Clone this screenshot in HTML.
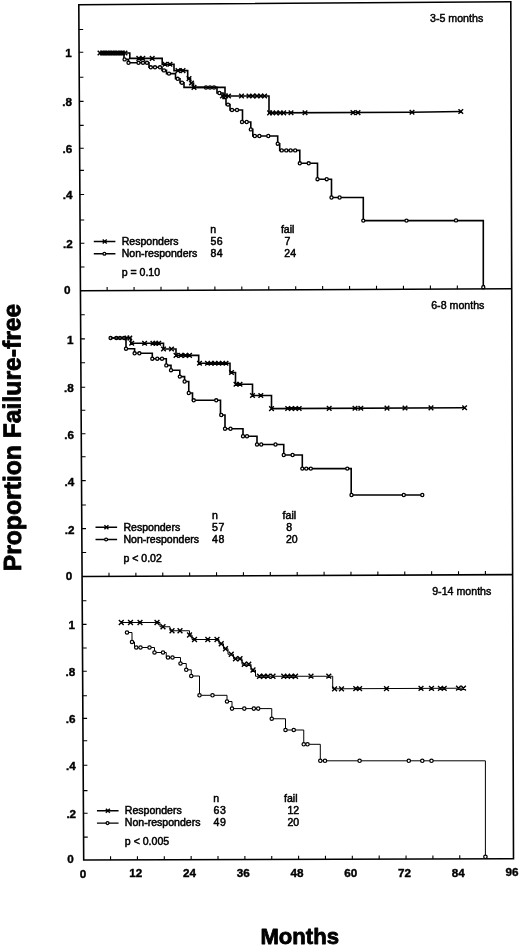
<!DOCTYPE html>
<html><head><meta charset="utf-8"><title>Proportion Failure-free</title>
<style>
html,body{margin:0;padding:0;background:#fff}
svg{display:block}
text{font-family:"Liberation Sans",sans-serif;fill:#000}
.b{font-weight:bold;font-size:11.7px;stroke:#000;stroke-width:.4px}
.l{font-size:10.55px;stroke:#000;stroke-width:.5px}
.t{font-size:10.65px;stroke:#000;stroke-width:.45px}
.ax{font-weight:bold;font-size:22px;stroke:#000;stroke-width:.85px;stroke-linejoin:round}
</style></head><body>
<svg width="520" height="946" viewBox="0 0 520 946">
<rect width="520" height="946" fill="#fff"/>
<path d="M78.8 4.8 L510.8 1.7 L513.5 858.8 L83.7 860 Z" fill="none" stroke="#000" stroke-width="1.6" stroke-linejoin="miter"/>
<path d="M80.2 290.8 L511.2 288.8" stroke="#000" stroke-width="1.6" fill="none"/>
<path d="M82.1 576.5 L512.3 574.6" stroke="#000" stroke-width="1.6" fill="none"/>
<path d="M78.94 29.5 h4.2 M79.07 52.3 h4.2 M79.22 77.3 h4.2 M79.35 101.4 h4.2 M79.49 125.4 h4.2 M79.62 148.2 h4.2 M79.75 170.4 h4.2 M79.89 194.5 h4.2 M80.03 220 h4.2 M80.17 243.2 h4.2 M80.3 267 h4.2 M107.14 290.68 v-3.6 M134.07 290.55 v-3.6 M161.01 290.43 v-3.6 M187.95 290.3 v-3.6 M214.89 290.18 v-3.6 M241.82 290.05 v-3.6 M268.76 289.93 v-3.6 M295.7 289.8 v-3.6 M322.64 289.68 v-3.6 M349.57 289.55 v-3.6 M376.51 289.43 v-3.6 M403.45 289.3 v-3.6 M430.39 289.18 v-3.6 M457.32 289.05 v-3.6 M484.26 288.93 v-3.6 M80.58 314.7 h4.2 M80.71 338.9 h4.2 M80.85 362.7 h4.2 M80.99 387.2 h4.2 M81.12 410.2 h4.2 M81.26 433.8 h4.2 M81.39 456.7 h4.2 M81.53 480.6 h4.2 M81.67 505 h4.2 M81.8 528.6 h4.2 M81.94 552.5 h4.2 M108.99 576.38 v-3.6 M135.88 576.26 v-3.6 M162.76 576.14 v-3.6 M189.65 576.02 v-3.6 M216.54 575.91 v-3.6 M243.42 575.79 v-3.6 M270.31 575.67 v-3.6 M297.2 575.55 v-3.6 M324.09 575.43 v-3.6 M350.97 575.31 v-3.6 M377.86 575.19 v-3.6 M404.75 575.08 v-3.6 M431.64 574.96 v-3.6 M458.52 574.84 v-3.6 M485.41 574.72 v-3.6 M82.21 600.8 h4.2 M82.35 624.4 h4.2 M82.49 648 h4.2 M82.62 671.2 h4.2 M82.76 695.7 h4.2 M82.89 718.4 h4.2 M83.02 740.7 h4.2 M83.16 765.2 h4.2 M83.3 790.6 h4.2 M83.43 813.2 h4.2 M83.57 837.1 h4.2 M110.56 859.92 v-3.6 M137.43 859.85 v-3.6 M164.29 859.77 v-3.6 M191.15 859.7 v-3.6 M218.01 859.62 v-3.6 M244.88 859.55 v-3.6 M271.74 859.48 v-3.6 M298.6 859.4 v-3.6 M325.46 859.32 v-3.6 M352.32 859.25 v-3.6 M379.19 859.17 v-3.6 M406.05 859.1 v-3.6 M432.91 859.02 v-3.6 M459.77 858.95 v-3.6 M486.64 858.88 v-3.6" stroke="#000" stroke-width="1.1" fill="none"/>
<text x="71.77" y="57.2" class="b" text-anchor="end">1</text>
<text x="72.05" y="106.3" class="b" text-anchor="end">.8</text>
<text x="72.32" y="153.1" class="b" text-anchor="end">.6</text>
<text x="72.59" y="199.4" class="b" text-anchor="end">.4</text>
<text x="72.87" y="248.1" class="b" text-anchor="end">.2</text>
<text x="70.54" y="294" class="b" text-anchor="end">0</text>
<text x="73.41" y="343.8" class="b" text-anchor="end">1</text>
<text x="73.69" y="392.1" class="b" text-anchor="end">.8</text>
<text x="73.96" y="438.7" class="b" text-anchor="end">.6</text>
<text x="74.23" y="485.5" class="b" text-anchor="end">.4</text>
<text x="74.5" y="533.5" class="b" text-anchor="end">.2</text>
<text x="72.18" y="579.7" class="b" text-anchor="end">0</text>
<text x="75.05" y="629.3" class="b" text-anchor="end">1</text>
<text x="75.32" y="676.1" class="b" text-anchor="end">.8</text>
<text x="75.59" y="723.3" class="b" text-anchor="end">.6</text>
<text x="75.86" y="770.1" class="b" text-anchor="end">.4</text>
<text x="76.13" y="818.1" class="b" text-anchor="end">.2</text>
<text x="73.8" y="863.2" class="b" text-anchor="end">0</text>
<text x="83.1" y="877.6" class="b" text-anchor="middle">0</text>
<text x="135.83" y="877.45" class="b" text-anchor="middle">12</text>
<text x="189.55" y="877.3" class="b" text-anchor="middle">24</text>
<text x="243.28" y="877.15" class="b" text-anchor="middle">36</text>
<text x="297" y="877" class="b" text-anchor="middle">48</text>
<text x="350.72" y="876.85" class="b" text-anchor="middle">60</text>
<text x="404.45" y="876.7" class="b" text-anchor="middle">72</text>
<text x="458.17" y="876.55" class="b" text-anchor="middle">84</text>
<text x="511.9" y="876.4" class="b" text-anchor="middle">96</text>
<path d="M99 53 H124 V59.4 H128.5 V62.8 H149 V67.3 H162 V70.4 H166.5 V73.6 H175.5 V78.8 H180 V82.7 H184 V87.4 H217 V93 H223 V98.5 H226 V104.6 H230 V110 H242.5 V122 H250.8 V129.4 H252.8 V136 H277.7 V143.7 H279.7 V150.4 H299.8 V163.3 H317.5 V179.2 H331.5 V197.5 H363.3 V220.6 H483.3 V287.4" stroke="#000" stroke-width="1.6" fill="none" stroke-linejoin="miter"/>
<g fill="#fff" stroke="#000" stroke-width="1.3"><circle cx="124.6" cy="59.4" r="1.55"/><circle cx="128.5" cy="62.8" r="1.55"/><circle cx="138.5" cy="62.8" r="1.55"/><circle cx="143" cy="62.8" r="1.55"/><circle cx="147" cy="62.8" r="1.55"/><circle cx="150.8" cy="67.3" r="1.55"/><circle cx="155" cy="67.3" r="1.55"/><circle cx="160" cy="67.3" r="1.55"/><circle cx="164" cy="70.4" r="1.55"/><circle cx="169" cy="73.6" r="1.55"/><circle cx="177.7" cy="78.8" r="1.55"/><circle cx="182" cy="82.7" r="1.55"/><circle cx="206" cy="87.5" r="1.55"/><circle cx="210" cy="87.5" r="1.55"/><circle cx="214" cy="87.5" r="1.55"/><circle cx="219.4" cy="93" r="1.55"/><circle cx="228" cy="104.6" r="1.55"/><circle cx="232" cy="110" r="1.55"/><circle cx="237" cy="110" r="1.55"/><circle cx="242" cy="122" r="1.55"/><circle cx="246.7" cy="122" r="1.55"/><circle cx="250.8" cy="129.4" r="1.55"/><circle cx="254.8" cy="136" r="1.55"/><circle cx="259.4" cy="136" r="1.55"/><circle cx="268.3" cy="136" r="1.55"/><circle cx="277.7" cy="143.7" r="1.55"/><circle cx="281.7" cy="150.4" r="1.55"/><circle cx="286.3" cy="150.4" r="1.55"/><circle cx="290.6" cy="150.4" r="1.55"/><circle cx="295.2" cy="150.4" r="1.55"/><circle cx="299.8" cy="163.3" r="1.55"/><circle cx="308.7" cy="163.3" r="1.55"/><circle cx="317.5" cy="179.2" r="1.55"/><circle cx="326.7" cy="179.2" r="1.55"/><circle cx="331.5" cy="197.5" r="1.55"/><circle cx="339.6" cy="197.5" r="1.55"/><circle cx="363.3" cy="220.6" r="1.55"/><circle cx="406.5" cy="220.6" r="1.55"/><circle cx="456" cy="220.4" r="1.55"/><circle cx="483.3" cy="287.2" r="1.55"/></g>
<path d="M99 53 H129.8 V58.4 H162.2 V64.2 H174 V70.6 H187.7 V78.6 H190.5 V83 H193.5 V87.4 H225 V96 H269 V112.9 L412 112.3 L460.8 111.5" stroke="#000" stroke-width="1.6" fill="none" stroke-linejoin="miter"/>
<path d="M97.7 50.7l4.6 4.6M97.7 55.3l4.6 -4.6M100.2 50.7l4.6 4.6M100.2 55.3l4.6 -4.6M102.7 50.7l4.6 4.6M102.7 55.3l4.6 -4.6M105.2 50.7l4.6 4.6M105.2 55.3l4.6 -4.6M107.7 50.7l4.6 4.6M107.7 55.3l4.6 -4.6M110.2 50.7l4.6 4.6M110.2 55.3l4.6 -4.6M112.7 50.7l4.6 4.6M112.7 55.3l4.6 -4.6M115.2 50.7l4.6 4.6M115.2 55.3l4.6 -4.6M117.7 50.7l4.6 4.6M117.7 55.3l4.6 -4.6M120.2 50.7l4.6 4.6M120.2 55.3l4.6 -4.6M122.7 50.7l4.6 4.6M122.7 55.3l4.6 -4.6M136.5 56.1l4.6 4.6M136.5 60.7l4.6 -4.6M140.5 56.1l4.6 4.6M140.5 60.7l4.6 -4.6M149.9 56.1l4.6 4.6M149.9 60.7l4.6 -4.6M162.7 61.9l4.6 4.6M162.7 66.5l4.6 -4.6M167.7 61.9l4.6 4.6M167.7 66.5l4.6 -4.6M175.7 68.3l4.6 4.6M175.7 72.9l4.6 -4.6M180.7 68.3l4.6 4.6M180.7 72.9l4.6 -4.6M186.7 76.3l4.6 4.6M186.7 80.9l4.6 -4.6M189.2 80.7l4.6 4.6M189.2 85.3l4.6 -4.6M191.7 85.1l4.6 4.6M191.7 89.7l4.6 -4.6M220.2 93.7l4.6 4.6M220.2 98.3l4.6 -4.6M223.2 93.7l4.6 4.6M223.2 98.3l4.6 -4.6M226.2 93.7l4.6 4.6M226.2 98.3l4.6 -4.6M239.2 93.7l4.6 4.6M239.2 98.3l4.6 -4.6M246.7 93.7l4.6 4.6M246.7 98.3l4.6 -4.6M250.4 93.7l4.6 4.6M250.4 98.3l4.6 -4.6M254.7 93.7l4.6 4.6M254.7 98.3l4.6 -4.6M258.5 93.7l4.6 4.6M258.5 98.3l4.6 -4.6M262.3 93.7l4.6 4.6M262.3 98.3l4.6 -4.6M267.3 110.6l4.6 4.6M267.3 115.2l4.6 -4.6M270.3 110.6l4.6 4.6M270.3 115.2l4.6 -4.6M273.9 110.6l4.6 4.6M273.9 115.2l4.6 -4.6M277.9 110.6l4.6 4.6M277.9 115.2l4.6 -4.6M281.4 110.6l4.6 4.6M281.4 115.2l4.6 -4.6M288.7 110.5l4.6 4.6M288.7 115.1l4.6 -4.6M302.7 110.5l4.6 4.6M302.7 115.1l4.6 -4.6M350.7 110.3l4.6 4.6M350.7 114.9l4.6 -4.6M355.7 110.3l4.6 4.6M355.7 114.9l4.6 -4.6M409.7 110l4.6 4.6M409.7 114.6l4.6 -4.6M458.5 109.2l4.6 4.6M458.5 113.8l4.6 -4.6" stroke="#000" stroke-width="1.45" fill="none" stroke-linecap="butt"/>
<path d="M110.6 338 H126 V348.7 H134.6 V353.3 H152.3 V358.7 H166.3 V365.4 H171 V370.2 H179.8 V376.6 H184.6 V381.5 H188.75 V393 H192.5 V400.3 H220.5 V415 H225 V428.75 H243 V436.25 H257 V444.5 H283.75 V455 H302.3 V468.6 H351.2 V495 H422.3" stroke="#000" stroke-width="1.6" fill="none" stroke-linejoin="miter"/>
<g fill="#fff" stroke="#000" stroke-width="1.3"><circle cx="110.6" cy="338" r="1.55"/><circle cx="116.3" cy="338" r="1.55"/><circle cx="120" cy="338" r="1.55"/><circle cx="124" cy="338" r="1.55"/><circle cx="126" cy="348.7" r="1.55"/><circle cx="134.6" cy="353.3" r="1.55"/><circle cx="139.4" cy="353.3" r="1.55"/><circle cx="152.3" cy="358.7" r="1.55"/><circle cx="157.3" cy="358.7" r="1.55"/><circle cx="162" cy="358.7" r="1.55"/><circle cx="166.3" cy="365.4" r="1.55"/><circle cx="171" cy="370.2" r="1.55"/><circle cx="179.8" cy="376.6" r="1.55"/><circle cx="184.6" cy="381.5" r="1.55"/><circle cx="188.75" cy="393" r="1.55"/><circle cx="193.75" cy="400.3" r="1.55"/><circle cx="216.25" cy="400.3" r="1.55"/><circle cx="221.25" cy="415" r="1.55"/><circle cx="225" cy="428.75" r="1.55"/><circle cx="230.5" cy="428.75" r="1.55"/><circle cx="243" cy="436.25" r="1.55"/><circle cx="247" cy="436.25" r="1.55"/><circle cx="257" cy="444.5" r="1.55"/><circle cx="261.25" cy="444.5" r="1.55"/><circle cx="275.5" cy="444.5" r="1.55"/><circle cx="283.75" cy="455" r="1.55"/><circle cx="292.6" cy="455" r="1.55"/><circle cx="302.3" cy="468.6" r="1.55"/><circle cx="306.3" cy="468.6" r="1.55"/><circle cx="310.8" cy="468.6" r="1.55"/><circle cx="347.3" cy="468.6" r="1.55"/><circle cx="351.5" cy="495" r="1.55"/><circle cx="403.8" cy="495" r="1.55"/><circle cx="422.3" cy="495" r="1.55"/></g>
<path d="M110.6 338 H130.8 V343.3 H163.5 V349 H176 V355.4 H198.7 V363.2 H230 V372.5 H235.5 V384.2 H252.5 V395.5 H271.5 V408.6 L464.6 407.7" stroke="#000" stroke-width="1.6" fill="none" stroke-linejoin="miter"/>
<path d="M124.7 335.7l4.6 4.6M124.7 340.3l4.6 -4.6M127.5 335.7l4.6 4.6M127.5 340.3l4.6 -4.6M129.4 341l4.6 4.6M129.4 345.6l4.6 -4.6M142.3 341l4.6 4.6M142.3 345.6l4.6 -4.6M150.6 341l4.6 4.6M150.6 345.6l4.6 -4.6M153.5 341l4.6 4.6M153.5 345.6l4.6 -4.6M156.4 341l4.6 4.6M156.4 345.6l4.6 -4.6M161.2 346.7l4.6 4.6M161.2 351.3l4.6 -4.6M169.2 346.7l4.6 4.6M169.2 351.3l4.6 -4.6M173.7 353.1l4.6 4.6M173.7 357.7l4.6 -4.6M178.7 353.1l4.6 4.6M178.7 357.7l4.6 -4.6M183.2 353.1l4.6 4.6M183.2 357.7l4.6 -4.6M187.2 353.1l4.6 4.6M187.2 357.7l4.6 -4.6M197.2 360.9l4.6 4.6M197.2 365.5l4.6 -4.6M205.2 360.9l4.6 4.6M205.2 365.5l4.6 -4.6M208.7 360.9l4.6 4.6M208.7 365.5l4.6 -4.6M212.7 360.9l4.6 4.6M212.7 365.5l4.6 -4.6M216.45 360.9l4.6 4.6M216.45 365.5l4.6 -4.6M220.2 360.9l4.6 4.6M220.2 365.5l4.6 -4.6M223.7 360.9l4.6 4.6M223.7 365.5l4.6 -4.6M229.2 370.2l4.6 4.6M229.2 374.8l4.6 -4.6M233.7 381.9l4.6 4.6M233.7 386.5l4.6 -4.6M237.7 381.9l4.6 4.6M237.7 386.5l4.6 -4.6M250.2 393.2l4.6 4.6M250.2 397.8l4.6 -4.6M258.5 393.2l4.6 4.6M258.5 397.8l4.6 -4.6M269.2 406.3l4.6 4.6M269.2 410.9l4.6 -4.6M285.4 406.2l4.6 4.6M285.4 410.8l4.6 -4.6M289.2 406.2l4.6 4.6M289.2 410.8l4.6 -4.6M293.1 406.2l4.6 4.6M293.1 410.8l4.6 -4.6M296.9 406.2l4.6 4.6M296.9 410.8l4.6 -4.6M326.9 406.1l4.6 4.6M326.9 410.7l4.6 -4.6M352.7 406l4.6 4.6M352.7 410.6l4.6 -4.6M358.5 406l4.6 4.6M358.5 410.6l4.6 -4.6M384.7 405.8l4.6 4.6M384.7 410.4l4.6 -4.6M402.7 405.7l4.6 4.6M402.7 410.3l4.6 -4.6M428.7 405.6l4.6 4.6M428.7 410.2l4.6 -4.6M462.3 405.4l4.6 4.6M462.3 410l4.6 -4.6" stroke="#000" stroke-width="1.45" fill="none" stroke-linecap="butt"/>
<path d="M127 632.5 H132 V642 H134.5 V647.5 H154.5 V652.5 H166.25 V657.5 H180.5 V663.5 H186.25 V669.8 H191.25 V676 H199.5 V695.3 H227 V701.5 H232 V708.6 H271.75 V718.75 H285.5 V730 H303.75 V744.3 H320.3 V760.8 H485.4 V857.6" stroke="#000" stroke-width="1.0" fill="none" stroke-linejoin="miter"/>
<g fill="#fff" stroke="#000" stroke-width="1.2"><circle cx="127" cy="632.5" r="1.7"/><circle cx="132" cy="642" r="1.7"/><circle cx="136.25" cy="647.5" r="1.7"/><circle cx="140.5" cy="647.5" r="1.7"/><circle cx="149.5" cy="647.5" r="1.7"/><circle cx="154.5" cy="652.5" r="1.7"/><circle cx="163" cy="652.5" r="1.7"/><circle cx="168" cy="657.5" r="1.7"/><circle cx="172.5" cy="657.5" r="1.7"/><circle cx="180.5" cy="663.5" r="1.7"/><circle cx="186.25" cy="669.8" r="1.7"/><circle cx="191.25" cy="676" r="1.7"/><circle cx="199.5" cy="695.3" r="1.7"/><circle cx="212.5" cy="695.3" r="1.7"/><circle cx="227" cy="701.5" r="1.7"/><circle cx="232" cy="708.6" r="1.7"/><circle cx="244.3" cy="708.6" r="1.7"/><circle cx="253.8" cy="708.6" r="1.7"/><circle cx="258.2" cy="708.6" r="1.7"/><circle cx="271.75" cy="718.75" r="1.7"/><circle cx="285.5" cy="730" r="1.7"/><circle cx="293.75" cy="730" r="1.7"/><circle cx="303.75" cy="744.3" r="1.7"/><circle cx="307.5" cy="744.3" r="1.7"/><circle cx="320.3" cy="760.8" r="1.7"/><circle cx="325" cy="760.8" r="1.7"/><circle cx="359.6" cy="760.8" r="1.7"/><circle cx="408.8" cy="760.8" r="1.7"/><circle cx="422.3" cy="760.8" r="1.7"/><circle cx="431.5" cy="760.8" r="1.7"/><circle cx="485.4" cy="856.8" r="1.7"/></g>
<path d="M121.25 622.5 H160 V626.75 H170 V630.75 H189.5 V635 H192 V639.5 H219 V643.75 H223.5 V648.75 H228 V654.25 H233.5 V658.75 H242 V664.25 H251 V670 H255.5 V676.25 H332.7 V688.8 L463.5 688.2" stroke="#000" stroke-width="1.0" fill="none" stroke-linejoin="miter"/>
<path d="M118.85 620.1l4.8 4.8M118.85 624.9l4.8 -4.8M128.1 620.1l4.8 4.8M128.1 624.9l4.8 -4.8M137.6 620.1l4.8 4.8M137.6 624.9l4.8 -4.8M154.6 620.1l4.8 4.8M154.6 624.9l4.8 -4.8M160.6 624.35l4.8 4.8M160.6 629.15l4.8 -4.8M169.6 628.35l4.8 4.8M169.6 633.15l4.8 -4.8M177.6 628.35l4.8 4.8M177.6 633.15l4.8 -4.8M187.1 632.6l4.8 4.8M187.1 637.4l4.8 -4.8M192.1 637.1l4.8 4.8M192.1 641.9l4.8 -4.8M205.4 637.1l4.8 4.8M205.4 641.9l4.8 -4.8M214.6 637.1l4.8 4.8M214.6 641.9l4.8 -4.8M218.85 641.35l4.8 4.8M218.85 646.15l4.8 -4.8M223.1 646.35l4.8 4.8M223.1 651.15l4.8 -4.8M228.85 651.85l4.8 4.8M228.85 656.65l4.8 -4.8M233.1 656.35l4.8 4.8M233.1 661.15l4.8 -4.8M237.6 656.35l4.8 4.8M237.6 661.15l4.8 -4.8M241.85 661.85l4.8 4.8M241.85 666.65l4.8 -4.8M246.35 661.85l4.8 4.8M246.35 666.65l4.8 -4.8M250.6 667.6l4.8 4.8M250.6 672.4l4.8 -4.8M257.1 673.85l4.8 4.8M257.1 678.65l4.8 -4.8M261.35 673.85l4.8 4.8M261.35 678.65l4.8 -4.8M265.6 673.85l4.8 4.8M265.6 678.65l4.8 -4.8M270.6 673.85l4.8 4.8M270.6 678.65l4.8 -4.8M281.35 673.85l4.8 4.8M281.35 678.65l4.8 -4.8M285.1 673.85l4.8 4.8M285.1 678.65l4.8 -4.8M288.85 673.85l4.8 4.8M288.85 678.65l4.8 -4.8M293.1 673.85l4.8 4.8M293.1 678.65l4.8 -4.8M308.6 673.8l4.8 4.8M308.6 678.6l4.8 -4.8M326.4 673.8l4.8 4.8M326.4 678.6l4.8 -4.8M332.2 686.4l4.8 4.8M332.2 691.2l4.8 -4.8M339.1 686.4l4.8 4.8M339.1 691.2l4.8 -4.8M353.4 686.3l4.8 4.8M353.4 691.1l4.8 -4.8M357.2 686.3l4.8 4.8M357.2 691.1l4.8 -4.8M384.1 686.2l4.8 4.8M384.1 691l4.8 -4.8M418.6 686l4.8 4.8M418.6 690.8l4.8 -4.8M429.1 686l4.8 4.8M429.1 690.8l4.8 -4.8M438 685.9l4.8 4.8M438 690.7l4.8 -4.8M441.8 685.9l4.8 4.8M441.8 690.7l4.8 -4.8M456.1 685.8l4.8 4.8M456.1 690.6l4.8 -4.8M461.1 685.8l4.8 4.8M461.1 690.6l4.8 -4.8" stroke="#000" stroke-width="1.4" fill="none" stroke-linecap="butt"/>
<text x="430" y="21.9" class="t">3-5 months</text>
<path d="M93.8 241.48 H115.4 M93.8 253.78 H115.4" stroke="#000" stroke-width="1.4"/>
<path d="M102.7 239.48l4 4M102.7 243.48l4 -4" stroke="#000" stroke-width="1.4" fill="none" stroke-linecap="butt"/>
<circle cx="104.4" cy="253.78" r="1.45" fill="#fff" stroke="#000" stroke-width="1.25"/>
<text x="121.7" y="245.08" class="l">Responders</text>
<text x="121.7" y="257.08" class="l">Non-responders</text>
<text x="121.7" y="276.08" class="l">p = 0.10</text>
<text x="210.4" y="245.08" class="l" textLength="12.3" lengthAdjust="spacing">56</text>
<text x="210.4" y="257.08" class="l" textLength="12.3" lengthAdjust="spacing">84</text>
<text x="210.2" y="232.88" class="l">n</text>
<text x="280.9" y="232.88" class="l">fail</text>
<text x="284.6" y="245.08" class="l">7</text>
<text x="296" y="257.08" class="l" text-anchor="end">24</text>
<text x="431.2" y="309" class="t">6-8 months</text>
<path d="M95.51 527.19 H117.11 M95.51 539.49 H117.11" stroke="#000" stroke-width="1.4"/>
<path d="M104.41 525.19l4 4M104.41 529.19l4 -4" stroke="#000" stroke-width="1.4" fill="none" stroke-linecap="butt"/>
<circle cx="106.11" cy="539.49" r="1.45" fill="#fff" stroke="#000" stroke-width="1.25"/>
<text x="123.41" y="530.79" class="l">Responders</text>
<text x="123.41" y="542.79" class="l">Non-responders</text>
<text x="123.41" y="561.79" class="l">p &lt; 0.02</text>
<text x="212.11" y="530.79" class="l" textLength="12.3" lengthAdjust="spacing">57</text>
<text x="212.11" y="542.79" class="l" textLength="12.3" lengthAdjust="spacing">48</text>
<text x="211.91" y="518.59" class="l">n</text>
<text x="282.61" y="518.59" class="l">fail</text>
<text x="286.31" y="530.79" class="l">8</text>
<text x="297.71" y="542.79" class="l" text-anchor="end">20</text>
<text x="432.2" y="594.8" class="t">9-14 months</text>
<path d="M96.95 810.81 H118.55 M96.95 823.11 H118.55" stroke="#000" stroke-width="1.4"/>
<path d="M105.85 808.81l4 4M105.85 812.81l4 -4" stroke="#000" stroke-width="1.4" fill="none" stroke-linecap="butt"/>
<circle cx="107.55" cy="823.11" r="1.45" fill="#fff" stroke="#000" stroke-width="1.25"/>
<text x="124.85" y="814.41" class="l">Responders</text>
<text x="124.85" y="826.41" class="l">Non-responders</text>
<text x="124.85" y="845.41" class="l">p &lt; 0.005</text>
<text x="213.55" y="814.41" class="l" textLength="12.3" lengthAdjust="spacing">63</text>
<text x="213.55" y="826.41" class="l" textLength="12.3" lengthAdjust="spacing">49</text>
<text x="213.35" y="802.21" class="l">n</text>
<text x="284.05" y="802.21" class="l">fail</text>
<text x="299.15" y="814.41" class="l" text-anchor="end">12</text>
<text x="299.15" y="826.41" class="l" text-anchor="end">20</text>
<text x="260.4" y="944.1" class="ax" style="font-size:22.8px" textLength="78.6" lengthAdjust="spacingAndGlyphs">Months</text>
<text transform="translate(21 571.3) rotate(-90.15)" class="ax" style="font-size:24.8px" textLength="267.6" lengthAdjust="spacingAndGlyphs">Proportion Failure-free</text>
</svg>
</body></html>
